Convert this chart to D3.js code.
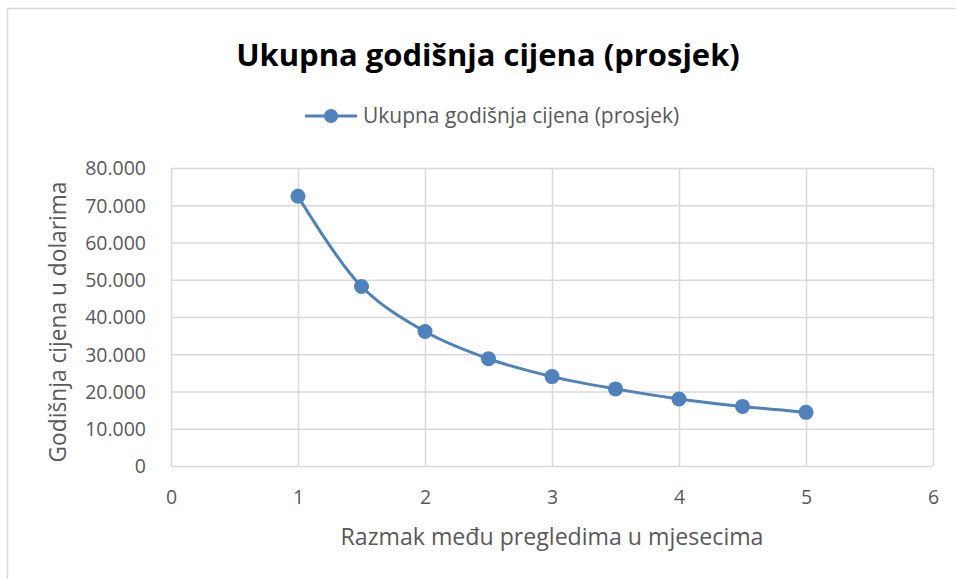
<!DOCTYPE html>
<html>
<head>
<meta charset="utf-8">
<script src="https://cdn.jsdelivr.net/npm/d3@7"></script>
<style>
  html, body { margin: 0; padding: 0; background: #fff; }
  svg { display: block; }
  text { font-family: "Open Sans", "Liberation Sans", sans-serif; }
</style>
</head>
<body>
<svg id="chart" width="956" height="579"></svg>
<script>
// Interval between check-ups (months) and average total yearly cost
const intervals = [1, 1.5, 2, 2.5, 3, 3.5, 4, 4.5, 5];
const yearlyCost = [72400, 48200, 36100, 28800, 24000, 20700, 18000, 16000, 14400];
const xTicks = [0, 1, 2, 3, 4, 5, 6];
const yTicks = [0, 10000, 20000, 30000, 40000, 50000, 60000, 70000, 80000];

const chartTitle = "Ukupna godišnja cijena (prosjek)";
const seriesName = "Ukupna godišnja cijena (prosjek)";
const xTitle = "Razmak među pregledima u mjesecima";
const yTitle = "Godišnja cijena u dolarima";

const W = 956, H = 579;
const plot = { left: 171, right: 933, top: 168, bottom: 466 };
const blue = "#4f81bd";
const grid = "#d9d9d9";
const textGrey = "#595959";

const svg = d3.select("#chart");

// chart area border
svg.append("rect")
  .attr("x", 7.5).attr("y", 8.5)
  .attr("width", W + 20).attr("height", H + 20)
  .attr("fill", "#fff").attr("stroke", grid).attr("stroke-width", 1.5);

const x = d3.scaleLinear().domain([0, 6]).range([plot.left, plot.right]);
const y = d3.scaleLinear().domain([0, 80000]).range([plot.bottom, plot.top]);

// set a font size so a label spans the wanted width
function fitText(sel, width) {
  const node = sel.node();
  let fs = parseFloat(sel.attr("font-size"));
  for (let i = 0; i < 3; i++) {
    const w = node.getComputedTextLength();
    if (w > 0) fs = fs * width / w;
    sel.attr("font-size", fs);
  }
  return sel;
}

// gridlines
const gx = svg.append("g")
  .attr("transform", `translate(0,${plot.top})`)
  .call(d3.axisBottom(x).tickValues(xTicks).tickSize(plot.bottom - plot.top).tickFormat(""));
gx.select(".domain").remove();
gx.selectAll("line").attr("stroke", grid).attr("stroke-width", 1.5);

const gy = svg.append("g")
  .attr("transform", `translate(${plot.left},0)`)
  .call(d3.axisRight(y).tickValues(yTicks).tickSize(plot.right - plot.left).tickFormat(""));
gy.select(".domain").remove();
gy.selectAll("line").attr("stroke", grid).attr("stroke-width", 1.5);

// y tick labels (dot as thousands separator)
const fmt = d3.formatLocale({ decimal: ",", thousands: ".", grouping: [3], currency: ["", ""] }).format(",d");
const yAxis = svg.append("g")
  .attr("transform", `translate(${plot.left - 25},0)`)
  .call(d3.axisLeft(y).tickValues(yTicks).tickSize(0).tickPadding(0).tickFormat(fmt));
yAxis.select(".domain").remove();
yAxis.selectAll("text")
  .attr("font-family", "'Open Sans', 'Liberation Sans', sans-serif")
  .attr("font-size", 19.5).attr("fill", textGrey).attr("dy", "0.35em");

// x tick labels
const xAxis = svg.append("g")
  .attr("transform", `translate(0,${plot.bottom + 31})`)
  .call(d3.axisBottom(x).tickValues(xTicks).tickSize(0).tickPadding(0).tickFormat(d3.format("d")));
xAxis.select(".domain").remove();
xAxis.selectAll("text")
  .attr("font-family", "'Open Sans', 'Liberation Sans', sans-serif")
  .attr("font-size", 19.5).attr("fill", textGrey).attr("dy", "0.35em");

// axis titles
const xt = svg.append("text")
  .attr("x", 552).attr("y", 537).attr("dy", "0.35em")
  .attr("text-anchor", "middle").attr("font-size", 20).attr("fill", textGrey)
  .text(xTitle);
fitText(xt, 423);

const yt = svg.append("text")
  .attr("transform", `translate(58,322) rotate(-90)`)
  .attr("dy", "0.35em")
  .attr("text-anchor", "middle").attr("font-size", 20).attr("fill", textGrey)
  .text(yTitle);
fitText(yt, 281);

// chart title
const tt = svg.append("text")
  .attr("x", 488).attr("y", 55).attr("dy", "0.35em")
  .attr("text-anchor", "middle").attr("font-size", 30).attr("font-weight", "bold")
  .attr("fill", "#000")
  .text(chartTitle);
fitText(tt, 504);

// legend
const lg = svg.append("g");
lg.append("line")
  .attr("x1", 305).attr("x2", 357).attr("y1", 116).attr("y2", 116)
  .attr("stroke", blue).attr("stroke-width", 3);
lg.append("circle").attr("cx", 331).attr("cy", 116).attr("r", 7).attr("fill", blue);
const lt = lg.append("text")
  .attr("x", 363).attr("y", 116).attr("dy", "0.35em")
  .attr("font-size", 18).attr("fill", textGrey)
  .text(seriesName);
fitText(lt, 316);

// series
const data = intervals.map((m, i) => ({ m, v: yearlyCost[i] }));
const line = d3.line()
  .x(d => x(d.m)).y(d => y(d.v))
  .curve(d3.curveCatmullRom.alpha(0.5));

svg.append("path")
  .datum(data)
  .attr("d", line)
  .attr("fill", "none").attr("stroke", blue).attr("stroke-width", 3)
  .attr("stroke-linejoin", "round");

svg.append("g").selectAll("circle")
  .data(data).join("circle")
  .attr("cx", d => x(d.m)).attr("cy", d => y(d.v))
  .attr("r", 7.5).attr("fill", blue);
</script>
</body>
</html>
